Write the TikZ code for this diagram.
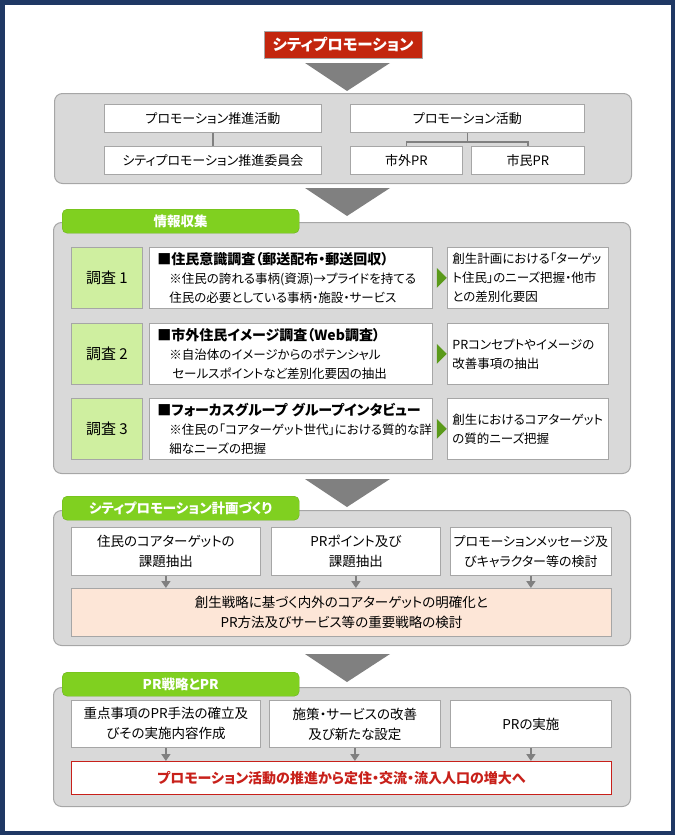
\documentclass[tikz,border=0pt]{standalone}
\usepackage{fontspec}
\setmainfont{Noto Sans CJK JP}[RawFeature=+palt]
\usetikzlibrary{arrows.meta,positioning}

\definecolor{framenavy}{HTML}{1F3864}
\definecolor{titlered}{HTML}{C3260E}
\definecolor{panelgray}{HTML}{D9D9D9}
\definecolor{panelline}{HTML}{A6A6A6}
\definecolor{trigray}{HTML}{808080}
\definecolor{tabgreen}{HTML}{80D020}
\definecolor{tabline}{HTML}{6BB31A}
\definecolor{labelgreen}{HTML}{CFEFA0}
\definecolor{tipgreen}{HTML}{5A9A1A}
\definecolor{peach}{HTML}{FDE6D7}
\definecolor{goalred}{HTML}{C8201A}

\newcommand\headline[1]{\mbox{\bfseries\fontsize{14}{19.5}\selectfont #1}}

\begin{document}
\begin{tikzpicture}[x=1pt, y=-1pt,
  every node/.style={inner sep=0pt, align=center, font=\fontsize{13}{19.5}\selectfont},
  box/.style={draw=panelline, line width=0.8pt, fill=white, anchor=north west},
  panel/.style={draw=panelline, fill=panelgray, rounded corners=8pt, line width=1pt, anchor=north west},
  tab/.style={draw=tabline, fill=tabgreen, rounded corners=5pt, anchor=north west,
    minimum width=237, minimum height=24, text=white, font=\bfseries\fontsize{13.5}{16}\selectfont},
  survey/.style={box, fill=labelgreen, minimum width=71, minimum height=61, font=\fontsize{15}{19}\selectfont},
  detail/.style={box, minimum height=61, text width=267pt, align=left, inner xsep=8pt,
    font=\fontsize{12.5}{19}\selectfont},
  result/.style={box, minimum height=61, text width=151pt, align=left, inner xsep=5pt,
    font=\fontsize{12.5}{19}\selectfont},
  plan/.style={box, minimum height=48, font=\fontsize{13.5}{20}\selectfont},
  bigtri/.style={fill=trigray},
  link/.style={draw=trigray, line width=1.5pt},
  down/.style={draw=trigray, line width=1.5pt, -{Triangle[length=7pt,width=9pt]}}]

\useasboundingbox (0,0) rectangle (675,835);
\draw[framenavy, line width=4.5pt] (2.25,2.25) rectangle (672.75,832.75);

% title
\node[fill=titlered, draw=panelline, minimum width=158, minimum height=27, text=white,
  font=\bfseries\fontsize{15.5}{18}\selectfont] (title) at (343,45) {シティプロモーション};
\fill[bigtri] (305,63) -- (390,63) -- (347,91) -- cycle;

% organisation
\node[panel, minimum width=577, minimum height=90] (orgPanel) at (54,93) {};
\node[box, minimum width=217, minimum height=28] (pa) at (104,104) {プロモーション推進活動};
\node[box, minimum width=217, minimum height=28] (pb) at (104,146) {シティプロモーション推進委員会};
\node[box, minimum width=234, minimum height=28] (pc) at (350,104) {プロモーション活動};
\node[box, minimum width=112, minimum height=28] (pd) at (350,146) {市外PR};
\node[box, minimum width=113, minimum height=28] (pe) at (471,146) {市民PR};
\draw[link] (pa) -- (pb);
\coordinate (pj) at ([yshift=-9pt]pc.south);
\draw[link] (pc.south) -- (pj) -| (pd.north);
\draw[link] (pj) -| (pe.north);

% information gathering
\fill[bigtri] (305,188) -- (390,188) -- (347,216) -- cycle;
\node[panel, minimum width=577, minimum height=251] (infoPanel) at (53,222) {};
\node[tab] (infoTab) at (62,209) {情報収集};

\node[survey] (s1) at (71,247) {調査 1};
\node[detail] (d1) at (149,247) {\headline{■住民意識調査（郵送配布・郵送回収）}\\
  \hspace*{12pt}※住民の誇れる事柄(資源)→プライドを持てる\\
  \hspace*{12pt}住民の必要としている事柄・施設・サービス};
\node[result] (r1) at (447,247) {創生計画における「ターゲッ\\ト住民」のニーズ把握・他市\\との差別化要因};
\fill[tipgreen] ([xshift=4pt,yshift=10pt]d1.east) -- ([xshift=14pt]d1.east) -- ([xshift=4pt,yshift=-10pt]d1.east) -- cycle;

\node[survey] (s2) at (71,323) {調査 2};
\node[detail] (d2) at (149,323) {\headline{■市外住民イメージ調査（Web調査）}\\
  \hspace*{12pt}※自治体のイメージからのポテンシャル\\
  \hspace*{15pt}セールスポイントなど差別化要因の抽出};
\node[result] (r2) at (447,323) {PRコンセプトやイメージの\\改善事項の抽出};
\fill[tipgreen] ([xshift=4pt,yshift=10pt]d2.east) -- ([xshift=14pt]d2.east) -- ([xshift=4pt,yshift=-10pt]d2.east) -- cycle;

\node[survey] (s3) at (71,398) {調査 3};
\node[detail] (d3) at (149,398) {\headline{■フォーカスグループ グループインタビュー}\\
  \hspace*{12pt}※住民の「コアターゲット世代」における質的な詳\\
  \hspace*{12pt}細なニーズの把握};
\node[result] (r3) at (447,398) {創生におけるコアターゲット\\の質的ニーズ把握};
\fill[tipgreen] ([xshift=4pt,yshift=10pt]d3.east) -- ([xshift=14pt]d3.east) -- ([xshift=4pt,yshift=-10pt]d3.east) -- cycle;

% planning
\fill[bigtri] (305,479) -- (390,479) -- (347,507) -- cycle;
\node[panel, minimum width=577, minimum height=135] (planPanel) at (53,510) {};
\node[tab] (planTab) at (62,496) {シティプロモーション計画づくり};
\node[plan, minimum width=189] (c1) at (71,527) {住民のコアターゲットの\\課題抽出};
\node[plan, minimum width=169] (c2) at (271,527) {PRポイント及び\\課題抽出};
\node[plan, minimum width=161, font=\fontsize{13}{20}\selectfont] (c3) at (450,527) {プロモーションメッセージ及\\びキャラクター等の検討};
\node[plan, fill=peach, minimum width=540] (core) at (71,588) {創生戦略に基づく内外のコアターゲットの明確化と\\PR方法及びサービス等の重要戦略の検討};
\foreach \n in {c1,c2,c3}
  \draw[down] (\n.south) -- (\n.south |- core.north);

% PR strategy
\fill[bigtri] (305,654) -- (390,654) -- (347,682) -- cycle;
\node[panel, minimum width=577, minimum height=119] (prPanel) at (53,687) {};
\node[tab] (prTab) at (62,672) {PR戦略とPR};
\node[plan, minimum width=189, minimum height=47] (e1) at (71,700) {重点事項のPR手法の確立及\\びその実施内容作成};
\node[plan, minimum width=171, minimum height=47] (e2) at (269,700) {施策・サービスの改善\\及び新たな設定};
\node[plan, minimum width=161, minimum height=47] (e3) at (450,700) {PRの実施};
\node[box, draw=goalred, line width=1pt, minimum width=540, minimum height=33, text=goalred,
  font=\bfseries\fontsize{14}{18}\selectfont] (goal) at (71,761) {プロモーション活動の推進から定住・交流・流入人口の増大へ};
\foreach \n in {e1,e2,e3}
  \draw[down] (\n.south) -- (\n.south |- goal.north);
\end{tikzpicture}
\end{document}
